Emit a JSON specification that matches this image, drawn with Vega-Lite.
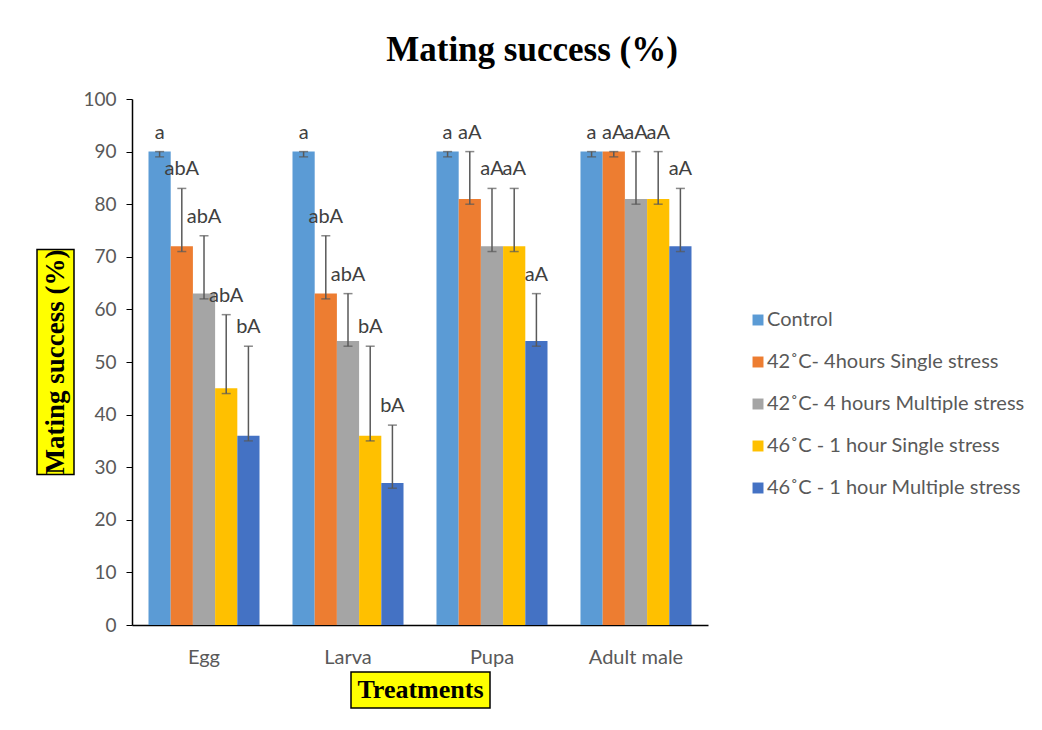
{
  "$schema": "https://vega.github.io/schema/vega-lite/v6.json",
  "background": "white",
  "padding": {"left": 36, "top": 33, "right": 5, "bottom": 5},
  "title": {"text": "Mating success (%)", "font": "Liberation Serif", "fontSize": 35, "fontWeight": "bold", "color": "black", "anchor": "middle", "frame": "group", "dx": 495, "offset": 22},
  "config": {"view": {"stroke": null}, "font": "Lato"},
  "datasets": {
    "bars": [
      {"stage": "Egg", "treatment": "Control", "mean": 90, "low": 89, "high": 90, "label": "a"},
      {"stage": "Egg", "treatment": "42˚C- 4hours Single stress", "mean": 72, "low": 71, "high": 83, "label": "abA"},
      {"stage": "Egg", "treatment": "42˚C- 4 hours Multiple stress", "mean": 63, "low": 62, "high": 74, "label": "abA"},
      {"stage": "Egg", "treatment": "46˚C - 1 hour Single stress", "mean": 45, "low": 44, "high": 59, "label": "abA"},
      {"stage": "Egg", "treatment": "46˚C - 1 hour Multiple stress", "mean": 36, "low": 35, "high": 53, "label": "bA"},
      {"stage": "Larva", "treatment": "Control", "mean": 90, "low": 89, "high": 90, "label": "a"},
      {"stage": "Larva", "treatment": "42˚C- 4hours Single stress", "mean": 63, "low": 62, "high": 74, "label": "abA"},
      {"stage": "Larva", "treatment": "42˚C- 4 hours Multiple stress", "mean": 54, "low": 53, "high": 63, "label": "abA"},
      {"stage": "Larva", "treatment": "46˚C - 1 hour Single stress", "mean": 36, "low": 35, "high": 53, "label": "bA"},
      {"stage": "Larva", "treatment": "46˚C - 1 hour Multiple stress", "mean": 27, "low": 26, "high": 38, "label": "bA"},
      {"stage": "Pupa", "treatment": "Control", "mean": 90, "low": 89, "high": 90, "label": "a"},
      {"stage": "Pupa", "treatment": "42˚C- 4hours Single stress", "mean": 81, "low": 80, "high": 90, "label": "aA"},
      {"stage": "Pupa", "treatment": "42˚C- 4 hours Multiple stress", "mean": 72, "low": 71, "high": 83, "label": "aA"},
      {"stage": "Pupa", "treatment": "46˚C - 1 hour Single stress", "mean": 72, "low": 71, "high": 83, "label": "aA"},
      {"stage": "Pupa", "treatment": "46˚C - 1 hour Multiple stress", "mean": 54, "low": 53, "high": 63, "label": "aA"},
      {"stage": "Adult male", "treatment": "Control", "mean": 90, "low": 89, "high": 90, "label": "a"},
      {"stage": "Adult male", "treatment": "42˚C- 4hours Single stress", "mean": 90, "low": 89, "high": 90, "label": "aA"},
      {"stage": "Adult male", "treatment": "42˚C- 4 hours Multiple stress", "mean": 81, "low": 80, "high": 90, "label": "aA"},
      {"stage": "Adult male", "treatment": "46˚C - 1 hour Single stress", "mean": 81, "low": 80, "high": 90, "label": "aA"},
      {"stage": "Adult male", "treatment": "46˚C - 1 hour Multiple stress", "mean": 72, "low": 71, "high": 83, "label": "aA"}
    ]
  },
  "columns": 2,
  "align": "each",
  "bounds": "flush",
  "center": {"row": true, "column": false},
  "spacing": {"row": 47, "column": 58},
  "concat": [
    {
      "width": 37,
      "height": 225,
      "view": {"fill": "#FFFF00", "stroke": "black", "strokeWidth": 1.5},
      "data": {"values": [{"t": "Mating success (%)"}]},
      "mark": {"type": "text", "angle": 270, "align": "center", "baseline": "middle", "font": "Liberation Serif", "fontWeight": "bold", "fontSize": 27, "color": "black"},
      "encoding": {"text": {"field": "t"}}
    },
    {
      "width": 576,
      "height": 526,
      "data": {"name": "bars"},
      "encoding": {
        "x": {"field": "stage", "type": "nominal", "sort": ["Egg", "Larva", "Pupa", "Adult male"], "title": null,
          "scale": {"paddingInner": 0.229, "paddingOuter": 0.1146},
          "axis": {"labelAngle": 0, "labelFont": "Lato", "labelFontSize": 20, "labelColor": "#595959", "labelPadding": 22, "ticks": false, "domainColor": "black", "domainWidth": 1.5}},
        "xOffset": {"field": "treatment", "type": "nominal", "sort": ["Control", "42˚C- 4hours Single stress", "42˚C- 4 hours Multiple stress", "46˚C - 1 hour Single stress", "46˚C - 1 hour Multiple stress"], "scale": {"paddingInner": 0, "paddingOuter": 0}}
      },
      "layer": [
        {
          "mark": {"type": "bar"},
          "encoding": {
            "y": {"field": "mean", "type": "quantitative", "title": null, "scale": {"domain": [0, 100]},
              "axis": {"values": [0, 10, 20, 30, 40, 50, 60, 70, 80, 90, 100], "grid": false, "labelFont": "Lato", "labelFontSize": 19, "labelColor": "#595959", "labelPadding": 10, "tickColor": "black", "tickSize": 6, "domainColor": "black", "domainWidth": 1.5}},
            "color": {"field": "treatment", "type": "nominal", "sort": ["Control", "42˚C- 4hours Single stress", "42˚C- 4 hours Multiple stress", "46˚C - 1 hour Single stress", "46˚C - 1 hour Multiple stress"],
              "scale": {"range": ["#5B9BD5", "#ED7D31", "#A5A5A5", "#FFC000", "#4472C4"]},
              "legend": {"title": null, "orient": "none", "legendX": 711, "legendY": 211, "symbolType": "square", "symbolSize": 120, "symbolStrokeWidth": 0, "labelFont": "Lato", "labelFontSize": 20, "labelColor": "#595959", "rowPadding": 22, "labelOffset": -1, "labelLimit": 400}}
          }
        },
        {
          "mark": {"type": "rule", "color": "#595959", "strokeWidth": 1.5},
          "encoding": {"y": {"field": "low", "type": "quantitative"}, "y2": {"field": "high"}}
        },
        {
          "mark": {"type": "tick", "orient": "horizontal", "color": "#595959", "size": 9, "thickness": 1.5},
          "encoding": {"y": {"field": "low", "type": "quantitative"}}
        },
        {
          "mark": {"type": "tick", "orient": "horizontal", "color": "#595959", "size": 9, "thickness": 1.5},
          "encoding": {"y": {"field": "high", "type": "quantitative"}}
        },
        {
          "mark": {"type": "text", "align": "center", "baseline": "alphabetic", "dy": -13, "font": "Lato", "fontSize": 20, "color": "#404040"},
          "encoding": {"y": {"field": "high", "type": "quantitative"}, "text": {"field": "label"}}
        }
      ]
    },
    {
      "width": 1,
      "height": 1,
      "data": {"values": [{}]},
      "mark": {"type": "text", "text": ""}
    },
    {
      "hconcat": [
        {
          "width": 219,
          "height": 1,
          "data": {"values": [{}]},
          "mark": {"type": "text", "text": ""}
        },
        {
          "width": 139,
          "height": 36,
          "view": {"fill": "#FFFF00", "stroke": "black", "strokeWidth": 1.5},
          "data": {"values": [{"t": "Treatments"}]},
          "mark": {"type": "text", "align": "center", "baseline": "middle", "font": "Liberation Serif", "fontWeight": "bold", "fontSize": 26, "color": "black"},
          "encoding": {"text": {"field": "t"}}
        }
      ],
      "spacing": 0,
      "bounds": "flush"
    }
  ]
}
